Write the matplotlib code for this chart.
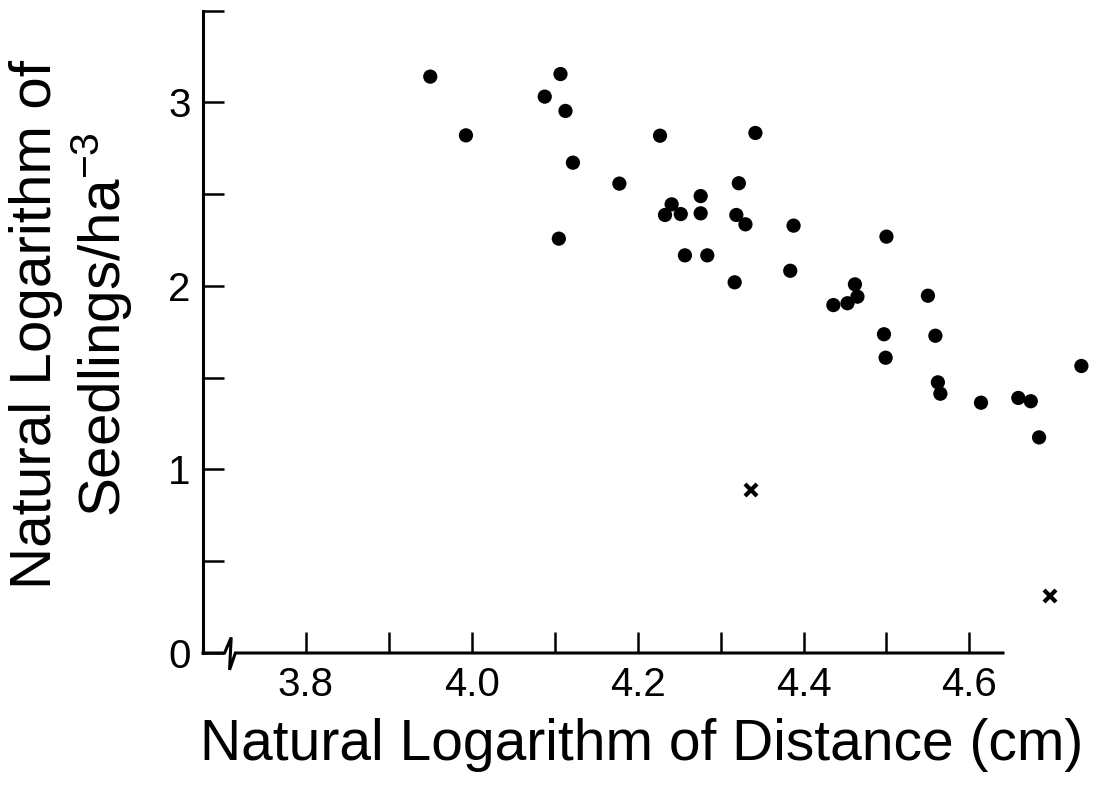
import numpy as np
import matplotlib
matplotlib.use('Agg')
import matplotlib.pyplot as plt
import matplotlib.transforms as mtransforms

plt.rcParams['font.family'] = ['Liberation Sans', 'DejaVu Sans']
plt.rcParams['mathtext.fontset'] = 'custom'
plt.rcParams['mathtext.rm'] = 'Liberation Sans'
plt.rcParams['mathtext.default'] = 'regular'

# seedling plots (filled dots)
dist = [3.950, 3.993, 4.088, 4.107, 4.113, 4.122, 4.105, 4.178, 4.227, 4.342,
        4.233, 4.241, 4.252, 4.257, 4.276, 4.276, 4.284, 4.319, 4.322, 4.317,
        4.330, 4.388, 4.384, 4.436, 4.453, 4.462, 4.465, 4.500, 4.497, 4.499,
        4.550, 4.559, 4.562, 4.565, 4.614, 4.659, 4.674, 4.684, 4.735]
seedlings = [3.141, 2.821, 3.032, 3.155, 2.954, 2.672, 2.258, 2.558, 2.819, 2.834,
             2.387, 2.445, 2.392, 2.167, 2.490, 2.396, 2.167, 2.387, 2.560, 2.020,
             2.336, 2.329, 2.083, 1.896, 1.906, 2.009, 1.942, 2.269, 1.737, 1.609,
             1.947, 1.729, 1.475, 1.413, 1.364, 1.390, 1.372, 1.175, 1.564]

# excluded plots (crosses)
dist_x = [4.337, 4.697]
seedlings_x = [0.888, 0.311]

xticks = [3.8, 3.9, 4.0, 4.1, 4.2, 4.3, 4.4, 4.5, 4.6]
xticklabels = ['3.8', '', '4.0', '', '4.2', '', '4.4', '', '4.6']
yticks = [0, 0.5, 1, 1.5, 2, 2.5, 3, 3.5]
yticklabels = ['0', '', '1', '', '2', '', '3', '']

fig = plt.figure(figsize=(10.97, 7.91), dpi=100)
ax = fig.add_axes([0.18505, 0.17446, 0.80857, 0.81922])

ax.scatter(dist, seedlings, s=105, color='black', edgecolors='none', clip_on=False, zorder=3)
ax.plot(dist_x, seedlings_x, linestyle='none', marker='x', markersize=9,
        markeredgewidth=3, color='black', clip_on=False, zorder=3)

ax.set_xlim(3.676, 4.7454)
ax.set_ylim(0, 3.5313)

for s in ['top', 'right', 'bottom']:
    ax.spines[s].set_visible(False)
ax.spines['left'].set_bounds(0, 3.5)
ax.spines['left'].set_linewidth(2.2)

# x axis line with the break mark near the origin
trans = mtransforms.blended_transform_factory(ax.transData, ax.transAxes)
ax.plot([3.676, 3.7020, 3.7100, 3.7080, 3.7150, 4.6405],
        [0, 0, 0.024, -0.026, 0, 0],
        color='black', linewidth=2.2, transform=trans, clip_on=False,
        solid_joinstyle='miter')

ax.set_xticks(xticks)
ax.set_xticklabels(xticklabels)
ax.set_yticks(yticks)
ax.set_yticklabels(yticklabels)
ax.tick_params(axis='both', direction='in', length=15, width=1.8,
               labelsize=29, color='black')
ax.tick_params(axis='x', pad=9)
ax.tick_params(axis='y', pad=9)

fig.text(0.585, 0.039, 'Natural Logarithm of Distance (cm)', fontsize=41,
         ha='center', va='baseline')
fig.text(0.066, 0.59, 'Natural Logarithm of\nSeedlings/ha$^{-3}$', fontsize=42,
         rotation=90, ha='center', va='center', multialignment='center',
         linespacing=1.12)

plt.savefig('out.png', dpi=100)
